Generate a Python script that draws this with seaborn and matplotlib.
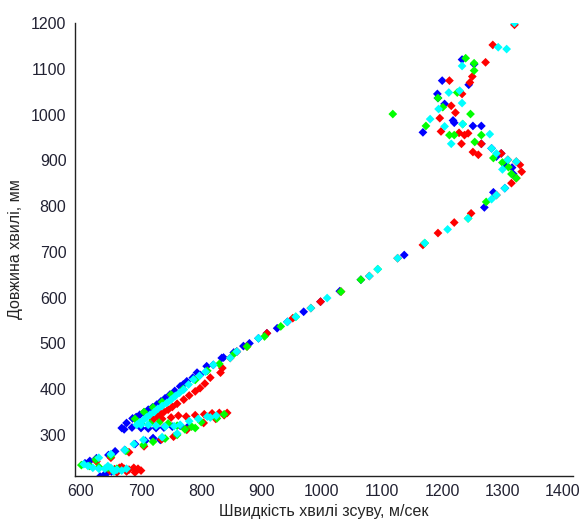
import pandas as pd
import matplotlib
matplotlib.use("Agg")
import matplotlib.pyplot as plt
import seaborn as sns

# wave velocity (m/s) / wavelength (mm), one pair of lists per series
blue_x = [1233, 1253, 1244, 1200, 1192, 1193, 1204, 1218, 1168, 1251, 1265, 1220,
          1265, 1282, 1298, 1290, 1305, 1316, 1318, 1304, 1285, 1270, 1137, 1065,
          1030, 998, 970, 943, 926, 909, 895, 880, 870, 859, 854, 837, 834, 820,
          809, 798, 793, 786, 776, 770, 765, 756, 748, 740, 733, 726, 719, 712,
          705, 698, 692, 686, 676, 668, 672, 685, 700, 712, 725, 738, 752, 765,
          778, 732, 720, 707, 690, 673, 657, 646, 626, 615, 607, 632, 643, 651,
          660, 640]
blue_y = [1120, 1110, 1065, 1074, 1045, 1036, 1023, 987, 961, 975, 975, 982,
          936, 926, 915, 908, 890, 884, 870, 839, 830, 797, 693, 639,
          614, 591, 569, 547, 533, 522, 511, 500, 494, 482, 480, 469, 468, 453,
          450, 431, 436, 425, 417, 410, 406, 396, 388, 380, 373, 366, 360, 355,
          349, 344, 339, 336, 326, 315, 312, 316, 315, 314, 315, 316, 318, 320,
          318, 289, 293, 287, 280, 267, 264, 256, 249, 243, 238, 209, 216, 220,
          224, 214]

red_x = [1320, 1284, 1272, 1212, 1250, 1246, 1233, 1215, 1222, 1196, 1198, 1228,
         1243, 1237, 1232, 1251, 1260, 1265, 1298, 1309, 1323, 1329, 1332, 1323,
         1315, 1290, 1248, 1220, 1193, 1168, 1126, 1079, 1032, 998, 982, 952, 909,
         876, 859, 848, 835, 832, 815, 806, 798, 790, 780, 771, 760, 752, 745, 738,
         732, 720, 728, 735, 750, 762, 775, 790, 805, 818, 830, 843, 838, 824, 804,
         776, 754, 734, 705, 680, 650, 626, 648, 656, 664, 672, 680, 688, 695, 700,
         690, 676, 668, 660]
red_y = [1196, 1152, 1114, 1074, 1083, 1070, 1045, 1019, 1004, 992, 963, 960,
         959, 955, 936, 918, 912, 936, 915, 901, 897, 890, 875, 861,
         850, 824, 784, 764, 741, 715, 686, 647, 613, 591, 577, 555, 522,
         493, 482, 468, 446, 436, 425, 412, 402, 395, 386, 377, 368, 361, 355, 350,
         345, 333, 340, 335, 338, 342, 340, 343, 345, 347, 348, 348, 343, 335, 326,
         311, 296, 290, 275, 262, 250, 242, 222, 225, 228, 226, 224, 228, 226, 222,
         218, 220, 230, 218]

green_x = [1118, 1239, 1253, 1253, 1225, 1193, 1201, 1247, 1173, 1234, 1212, 1254,
           1220, 1265, 1285, 1300, 1310, 1315, 1323, 1273, 1243, 1171, 1093, 1065,
           1032, 957, 932, 905, 876, 855, 830, 810, 790, 770, 750, 735, 720, 705,
           690, 700, 715, 730, 745, 760, 773, 784, 800, 826, 838, 790, 760, 740,
           720, 704, 675, 650, 625, 601, 615, 630, 645, 660]
green_y = [1001, 1123, 1112, 1096, 1048, 1036, 1016, 1001, 975, 979, 955, 940,
           955, 955, 905, 895, 885, 870, 861, 809, 773, 719, 662, 639,
           613, 558, 537, 515, 493, 478, 455, 440, 420, 400, 388, 372, 360, 350,
           335, 325, 325, 327, 325, 320, 312, 318, 328, 336, 345, 315, 300, 292,
           285, 278, 265, 254, 246, 234, 232, 230, 228, 226]

cyan_x = [1320, 1293, 1307, 1233, 1211, 1229, 1233, 1194, 1180, 1234, 1279, 1204,
          1215, 1282, 1290, 1309, 1323, 1300, 1304, 1290, 1282, 1243, 1209, 1171,
          1126, 1093, 1079, 1009, 982, 957, 943, 895, 859, 848, 820, 807, 797, 787,
          779, 771, 764, 757, 750, 743, 735, 728, 722, 715, 709, 704, 698, 693, 700,
          712, 725, 740, 755, 765, 780, 795, 810, 825, 815, 760, 735, 704, 688, 673,
          650, 630, 605, 612, 620, 630, 640, 650, 660, 668, 676, 655, 645]
cyan_y = [1200, 1147, 1143, 1106, 1048, 1052, 1025, 1012, 990, 979, 957, 974,
          936, 926, 915, 901, 897, 880, 839, 824, 815, 773, 749, 719,
          686, 662, 647, 599, 577, 558, 547, 511, 482, 468, 453, 438, 429, 421,
          410, 399, 392, 385, 377, 370, 363, 357, 350, 344, 338, 332, 327, 322, 322,
          322, 320, 318, 319, 322, 330, 335, 340, 342, 338, 303, 295, 289, 280, 267,
          258, 250, 236, 232, 228, 226, 226, 228, 224, 222, 226, 220, 232]

series = [("b", blue_x, blue_y), ("r", red_x, red_y),
          ("g", green_x, green_y), ("c", cyan_x, cyan_y)]
palette = {"b": "#0000ff", "r": "#ff0000", "g": "#00ff00", "c": "#00ffff"}

df = pd.concat([pd.DataFrame({"v": x, "l": y, "s": s}) for s, x, y in series],
               ignore_index=True)

sns.set_style("white")
plt.rcParams["font.family"] = ["Liberation Sans", "DejaVu Sans"]
plt.rcParams["xtick.direction"] = "in"
plt.rcParams["ytick.direction"] = "in"

fig = plt.figure(figsize=(5.84, 5.22), dpi=100)
ax = fig.add_axes([0.128, 0.088, 0.853, 0.868])

sns.scatterplot(data=df, x="v", y="l", hue="s", palette=palette, marker="D",
                s=20, linewidth=0, legend=False, ax=ax)

ax.set_xlim(590, 1417)
ax.set_ylim(210, 1200)
ax.set_xticks(range(600, 1401, 100))
ax.set_yticks(range(300, 1201, 100))
ax.tick_params(labelsize=11.5, length=4, width=1, pad=6, colors="#222",
               labelcolor="#222233")
for side in ["top", "right"]:
    ax.spines[side].set_visible(False)
for side in ["left", "bottom"]:
    ax.spines[side].set_color("#222")
    ax.spines[side].set_linewidth(1)

ax.set_xlabel("Швидкість хвилі зсуву, м/сек", fontsize=11.5, labelpad=3)
ax.set_ylabel("Довжина хвилі, мм", fontsize=11.5, labelpad=6)

fig.savefig("out.png", dpi=100)
